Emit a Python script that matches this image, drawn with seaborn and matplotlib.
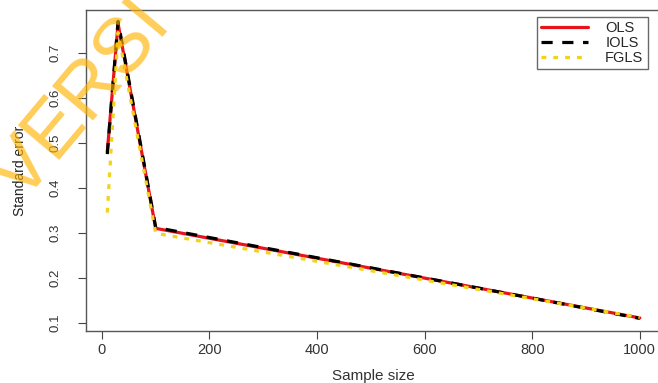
import pandas as pd
import matplotlib
matplotlib.use("Agg")
import matplotlib.pyplot as plt
import seaborn as sns

# Errores estandar por tamaño de muestra
sample_size = [10, 30, 100, 1000]
ols = [0.48, 0.765, 0.31, 0.111]
iols = [0.475, 0.77, 0.312, 0.110]
fgls = [0.345, 0.745, 0.299, 0.112]

sns.set_style("ticks")
plt.rcParams['font.family'] = ['Liberation Sans', 'DejaVu Sans']

fig = plt.figure(figsize=(6.58, 3.83), dpi=100)
ax = fig.add_axes([0.1307, 0.1358, 0.874, 0.838])

sns.lineplot(x=sample_size, y=ols, ax=ax, color="#e8141b", lw=2.3, label="OLS")
sns.lineplot(x=sample_size, y=iols, ax=ax, color="black", lw=2.3, label="IOLS",
             linestyle=(0, (3.5, 3)))
sns.lineplot(x=sample_size, y=fgls, ax=ax, color="#f2d21a", lw=2.3, label="FGLS",
             linestyle=(0, (1.5, 2.2)))

ax.set_xlim(-29.6, 1039.6)
ax.set_ylim(0.082, 0.795)
ax.set_xticks([0, 200, 400, 600, 800, 1000])
ax.set_yticks([0.1, 0.2, 0.3, 0.4, 0.5, 0.6, 0.7])
ax.set_yticklabels(["0.1", "0.2", "0.3", "0.4", "0.5", "0.6", "0.7"], rotation=90, va="center")
ax.tick_params(axis="y", labelsize=9.5, length=6, pad=12, color="#444444", labelcolor="#333333")
ax.tick_params(axis="x", labelsize=10.5, length=6, pad=3, color="#444444", labelcolor="#333333")
for s in ax.spines.values():
    s.set_visible(True)
    s.set_color("#555555")
    s.set_linewidth(1.0)

ax.set_xlabel("Sample size", fontsize=11, color="#333333", labelpad=8)
ax.set_ylabel("Standard error", fontsize=10, color="#222222", labelpad=16)

leg = ax.legend(loc="upper right", bbox_to_anchor=(0.977, 0.978), fontsize=10.5,
                frameon=True, fancybox=False, handlelength=3.2, borderpad=0.3,
                labelspacing=0.05, handletextpad=1.2, borderaxespad=0)
leg.get_frame().set_edgecolor("#444444")
leg.get_frame().set_linewidth(1.0)

# marca de agua
fig.text(0.035, 0.47, "VERSI", rotation=50, rotation_mode="anchor", fontsize=56,
         color="#ffb400", alpha=0.65, ha="left", va="baseline", zorder=10)

plt.savefig("out.png", dpi=100)
plt.close()
